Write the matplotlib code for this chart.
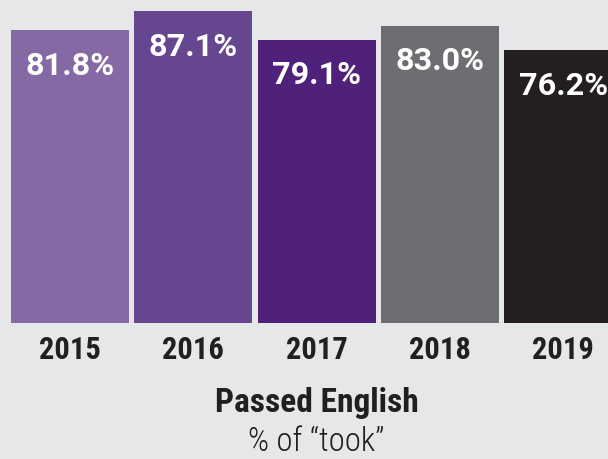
import matplotlib
matplotlib.use("Agg")
import matplotlib.pyplot as plt
import matplotlib.transforms as mtransforms
import numpy as np

years = ["2015", "2016", "2017", "2018", "2019"]
values = [81.8, 87.1, 79.1, 83.0, 76.2]
labels = ["81.8%", "87.1%", "79.1%", "83.0%", "76.2%"]
colors = ["#8469a5", "#674690", "#50217a", "#6d6e71", "#231f20"]
title = "Passed English"
subtitle = "% of “took”"

BG = "#e6e7e8"
DARK = "#231f20"
W, H = 608, 459

fig = plt.figure(figsize=(W / 100, H / 100), dpi=100, facecolor=BG)
ax = fig.add_axes([0, (H - 323) / H, 1, 323 / H])
ax.set_facecolor(BG)

x = np.arange(len(years))
ax.bar(x, values, width=0.957, color=colors, linewidth=0)

ax.set_xlim(-70 / 123.3, (W - 70) / 123.3)
ax.set_ylim(0, 323 / 3.58)

for xi, v, lab in zip(x, values, labels):
    ax.annotate(lab, xy=(xi, v), xytext=(0, -44.5 * 0.72), textcoords="offset points",
                ha="center", va="baseline", color="white", fontsize=23.3,
                family="Roboto", weight="bold")

ax.set_xticks(x, years, fontsize=22, family="Roboto Condensed", weight="bold", color=DARK)
ax.tick_params(axis="x", length=0, pad=36.3 * 0.72)
for t in ax.get_xticklabels():
    t.set_verticalalignment("baseline")
ax.set_yticks([])
for s in ax.spines.values():
    s.set_visible(False)

trans = mtransforms.blended_transform_factory(ax.transData, fig.transFigure)
ax.text(2, (H - 411.7) / H, title, transform=trans, ha="center", va="baseline",
        fontsize=24, family="Roboto Condensed", weight="bold", color=DARK, clip_on=False)
ax.text(2, (H - 451) / H, subtitle, transform=trans, ha="center", va="baseline",
        fontsize=23.8, family="Roboto Condensed", weight="light", color=DARK, clip_on=False)

fig.savefig("out.png", dpi=100, facecolor=BG)
